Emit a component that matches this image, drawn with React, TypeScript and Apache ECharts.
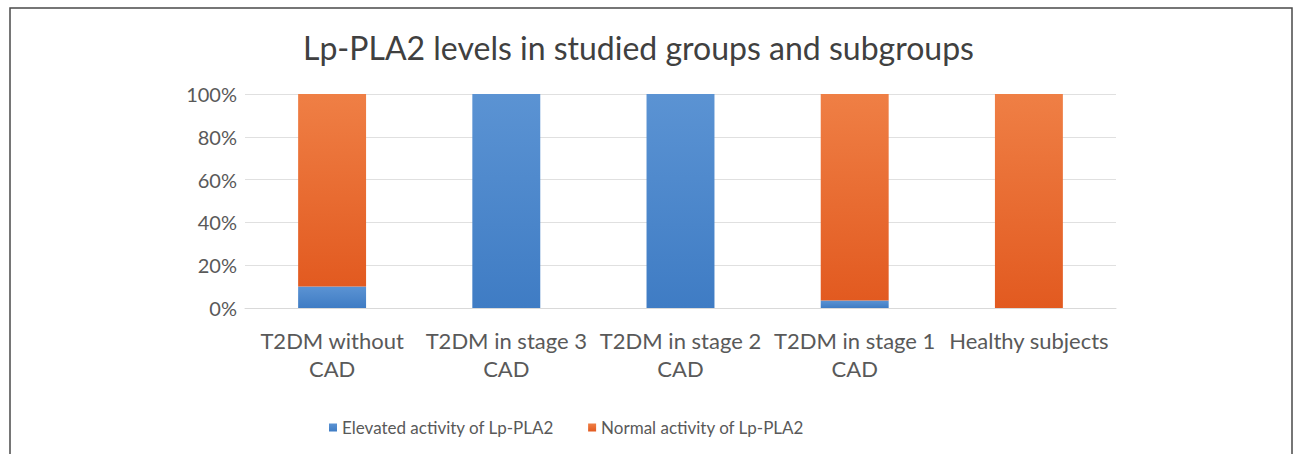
import React, { useEffect, useRef } from "react";
import * as echarts from "echarts";

const categories = [
  "T2DM without\nCAD",
  "T2DM in stage 3\nCAD",
  "T2DM in stage 2\nCAD",
  "T2DM in stage 1\nCAD",
  "Healthy subjects",
];
const elevated = [10, 100, 100, 3.5, 0];
const normal = [90, 0, 0, 96.5, 100];
const yTicks = [0, 20, 40, 60, 80, 100];

export default function App() {
  const ref = useRef<HTMLDivElement>(null);
  useEffect(() => {
    if (!ref.current) return;
    const chart = echarts.init(ref.current, null, { renderer: "svg" });
    const font = "Lato";
    chart.setOption({
      animation: false,
      backgroundColor: "#ffffff",
      title: {
        text: "Lp-PLA2 levels in studied groups and subgroups",
        left: 298,
        top: 26,
        textStyle: { fontFamily: font, fontSize: 32, fontWeight: "normal", color: "#404040" },
      },
      graphic: [
        {
          type: "rect",
          shape: { x: 10, y: 8, width: 1282, height: 470 },
          style: { fill: "none", stroke: "#4a4a4a", lineWidth: 1.5 },
          silent: true,
        },
      ],
      legend: {
        left: 324,
        top: 414,
        itemWidth: 8,
        itemHeight: 8,
        itemGap: 34,
        icon: "rect",
        textStyle: { fontFamily: font, fontSize: 17, color: "#595959" },
        data: ["Elevated activity of Lp-PLA2", "Normal activity of Lp-PLA2"],
      },
      grid: { left: 245, right: 180, top: 94, bottom: 146, containLabel: false },
      xAxis: {
        type: "category",
        data: categories,
        axisLine: { lineStyle: { color: "#d9d9d9" } },
        axisTick: { show: false },
        axisLabel: {
          interval: 0,
          fontFamily: font,
          fontSize: 22,
          color: "#595959",
          margin: 18,
          lineHeight: 28,
        },
      },
      yAxis: {
        type: "value",
        min: 0,
        max: 100,
        interval: 20,
        axisLine: { show: false },
        axisTick: { show: false },
        splitLine: { lineStyle: { color: "#e0e0e0", width: 1 } },
        axisLabel: {
          fontFamily: font,
          fontSize: 20,
          color: "#595959",
          margin: 8,
          formatter: (v: number) => (yTicks.includes(v) ? v + "%" : ""),
        },
      },
      series: [
        {
          name: "Elevated activity of Lp-PLA2",
          type: "bar",
          stack: "total",
          barWidth: "39%",
          data: elevated,
          itemStyle: {
            color: new echarts.graphic.LinearGradient(0, 0, 0, 1, [
              { offset: 0, color: "#5b93d3" },
              { offset: 1, color: "#3f7cc4" },
            ]),
          },
        },
        {
          name: "Normal activity of Lp-PLA2",
          type: "bar",
          stack: "total",
          barWidth: "39%",
          data: normal,
          itemStyle: {
            color: new echarts.graphic.LinearGradient(0, 0, 0, 1, [
              { offset: 0, color: "#ef7f45" },
              { offset: 1, color: "#e25a20" },
            ]),
          },
        },
      ],
    });
    return () => chart.dispose();
  }, []);
  return (
    <div
      ref={ref}
      style={{ position: "fixed", left: 0, top: 0, width: 1296, height: 454 }}
    />
  );
}
